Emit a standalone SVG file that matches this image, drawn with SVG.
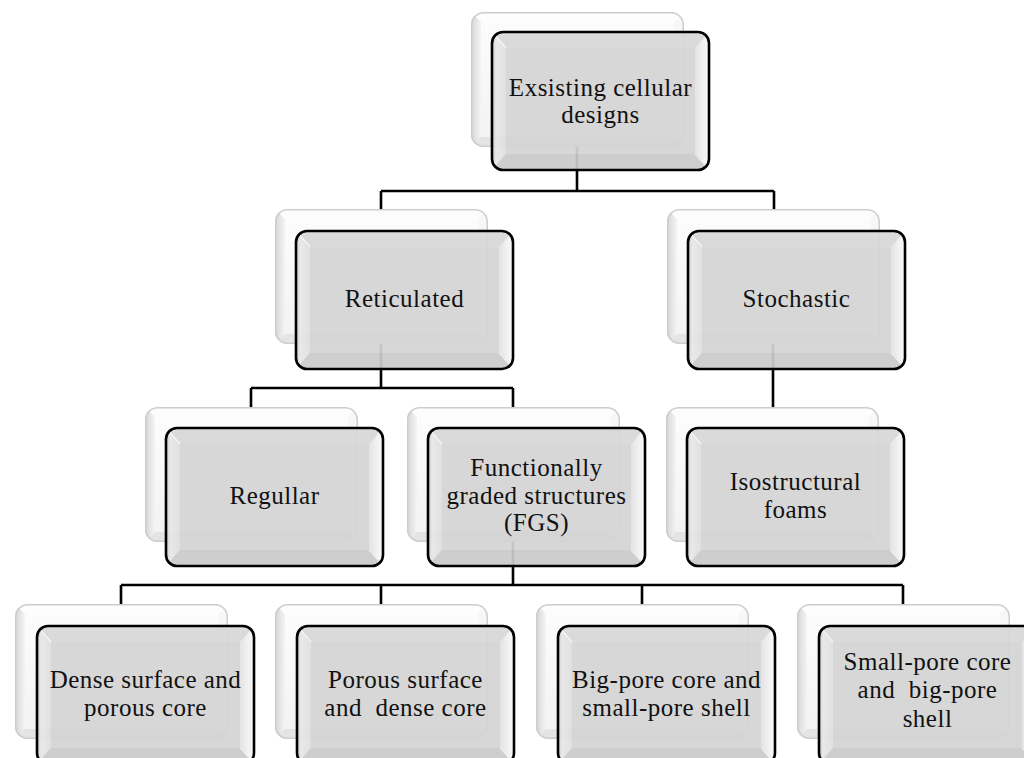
<svg xmlns="http://www.w3.org/2000/svg" xmlns:xlink="http://www.w3.org/1999/xlink" width="1024" height="758" viewBox="0 0 1024 758">
<style>
.lbl{font-family:"Liberation Serif","Times New Roman",serif;font-size:25px;letter-spacing:0.5px;fill:#111;text-anchor:middle}
.con{fill:none;stroke:#000;stroke-width:2.6}
</style>
<defs>
<linearGradient id="bgGrad" x1="0" y1="0" x2="0" y2="1">
<stop offset="0" stop-color="#fdfdfd"/><stop offset="1" stop-color="#f2f2f2"/>
</linearGradient>
<linearGradient id="rGrad" x1="0" y1="0" x2="1" y2="0">
<stop offset="0" stop-color="#e2e2e2"/><stop offset="1" stop-color="#fbfbfb"/>
</linearGradient>
<linearGradient id="lGrad" x1="0" y1="0" x2="1" y2="0">
<stop offset="0" stop-color="#c8c8c8"/><stop offset="0.3" stop-color="#e8e8e8"/><stop offset="1" stop-color="#dedede"/>
</linearGradient>
<linearGradient id="blGrad" x1="0" y1="0" x2="1" y2="0">
<stop offset="0" stop-color="#d6d6d6"/><stop offset="1" stop-color="#f4f4f4"/>
</linearGradient>
<clipPath id="fclip"><rect x="0" y="0" width="217" height="138" rx="11"/></clipPath>
<clipPath id="bclip"><rect x="0" y="0" width="213" height="135" rx="12"/></clipPath>
<g id="back">
<rect x="0" y="0" width="213" height="135" rx="12" fill="url(#bgGrad)"/>
<g clip-path="url(#bclip)">
<polygon points="0,0 10,10 10,125 0,135" fill="url(#blGrad)"/>
<polygon points="213,0 203,10 203,125 213,135" fill="#f7f7f7"/>
<polygon points="0,135 10,125 203,125 213,135" fill="#e4e4e4"/>
</g>
<rect x="0.75" y="0.75" width="211.5" height="133.5" rx="12" fill="none" stroke="#cdcdcd" stroke-width="1.5"/>
</g>
<g id="front">
<g opacity="0.93" clip-path="url(#fclip)">
<rect x="0" y="0" width="217" height="138" fill="#d3d3d3"/>
<polygon points="0,0 217,0 203,16 14,16" fill="#d8d8d8"/>
<polygon points="0,0 14,16 14,122 0,138" fill="url(#lGrad)"/>
<polygon points="217,0 203,16 203,122 217,138" fill="url(#rGrad)"/>
<polygon points="0,138 14,122 203,122 217,138" fill="#cbcbcb"/>
<line x1="2" y1="2" x2="14" y2="16" stroke="#f6f6f6" stroke-width="1.2"/>
<line x1="215" y1="136" x2="203" y2="122" stroke="#f0f0f0" stroke-width="1"/>
<rect x="14" y="16" width="189" height="106" fill="#d4d4d4"/>
</g>
<rect x="0" y="0" width="217" height="138" rx="11" fill="none" stroke="#000" stroke-width="2.6"/>
</g>
</defs>

<g id="connectors">
<path class="con" d="M577,140 V191 M381,191 H774 M381,191 V214 M774,191 V214"/>
<path class="con" d="M381,336 V388 M251,388 H513 M251,388 V411 M513,388 V411"/>
<path class="con" d="M773,336 V411"/>
<path class="con" d="M513,535 V585 M121,585 H903 M121,585 V608 M381,585 V608 M642,585 V608 M903,585 V608"/>
</g>

<g id="n-root">
<use xlink:href="#back" x="471" y="12"/>
<use xlink:href="#front" x="492" y="32"/>
<text class="lbl"><tspan x="600.5" y="96">Exsisting cellular</tspan><tspan x="600.5" y="123">designs</tspan></text>
</g>

<g id="n-reticulated">
<use xlink:href="#back" x="275" y="209"/>
<use xlink:href="#front" x="296" y="231"/>
<text class="lbl" x="404.5" y="307">Reticulated</text>
</g>

<g id="n-stochastic">
<use xlink:href="#back" x="667" y="209"/>
<use xlink:href="#front" x="688" y="231"/>
<text class="lbl" x="796.5" y="307">Stochastic</text>
</g>

<g id="n-regullar">
<use xlink:href="#back" x="145" y="407"/>
<use xlink:href="#front" x="166" y="428"/>
<text class="lbl" x="274.5" y="504">Regullar</text>
</g>

<g id="n-fgs">
<use xlink:href="#back" x="407" y="407"/>
<use xlink:href="#front" x="428" y="428"/>
<text class="lbl"><tspan x="536.5" y="476">Functionally</tspan><tspan x="536.5" y="504">graded structures</tspan><tspan x="536.5" y="531">(FGS)</tspan></text>
</g>

<g id="n-iso">
<use xlink:href="#back" x="666" y="407"/>
<use xlink:href="#front" x="687" y="428"/>
<text class="lbl"><tspan x="795.5" y="490">Isostructural</tspan><tspan x="795.5" y="518">foams</tspan></text>
</g>

<g id="n-dense">
<use xlink:href="#back" x="15" y="604"/>
<use xlink:href="#front" x="37" y="626"/>
<text class="lbl"><tspan x="145.5" y="688">Dense surface and</tspan><tspan x="145.5" y="716">porous core</tspan></text>
</g>

<g id="n-porous">
<use xlink:href="#back" x="275" y="604"/>
<use xlink:href="#front" x="297" y="626"/>
<text class="lbl" xml:space="preserve"><tspan x="405.5" y="688">Porous surface</tspan><tspan x="405.5" y="716">and  dense core</tspan></text>
</g>

<g id="n-bigpore">
<use xlink:href="#back" x="536" y="604"/>
<use xlink:href="#front" x="558" y="626"/>
<text class="lbl"><tspan x="666.5" y="688">Big-pore core and</tspan><tspan x="666.5" y="716">small-pore shell</tspan></text>
</g>

<g id="n-smallpore">
<use xlink:href="#back" x="797" y="604"/>
<use xlink:href="#front" x="819" y="626"/>
<text class="lbl" xml:space="preserve"><tspan x="927.5" y="670">Small-pore core</tspan><tspan x="927.5" y="698">and  big-pore</tspan><tspan x="927.5" y="727">shell</tspan></text>
</g>
</svg>
